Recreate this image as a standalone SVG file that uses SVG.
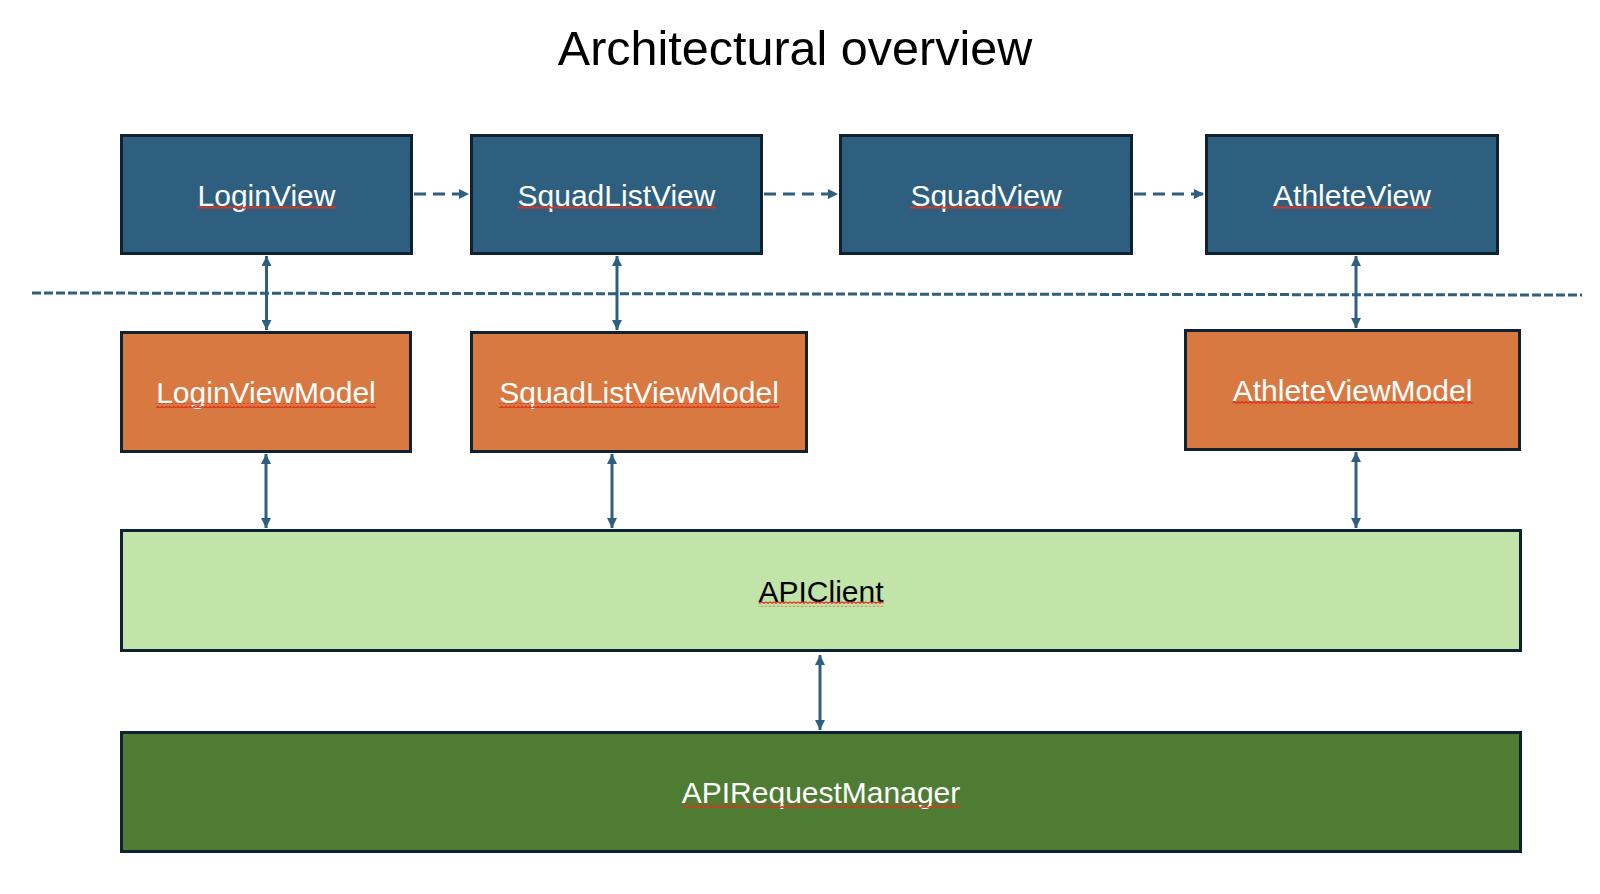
<svg xmlns="http://www.w3.org/2000/svg" width="1600" height="894" viewBox="0 0 1600 894">
<style>
.box{stroke:#0f2231;stroke-width:3}
.view{fill:#2e5f7f}
.vm{fill:#d97942}
.api{fill:#c1e4a8}
.mgr{fill:#4e7c32}
.lbl{font-family:"Liberation Sans",Arial,sans-serif;font-size:30px;text-anchor:middle}
.w{fill:#ffffff}
.k{fill:#000000}
.conn{stroke:#2e5f7f;stroke-width:3;fill:none}
.flow{stroke-dasharray:12 7}
.sq{fill:url(#squig)}
</style>
<defs>
<marker id="ah" viewBox="0 0 10 10" refX="10" refY="5" markerWidth="10" markerHeight="10" markerUnits="userSpaceOnUse" orient="auto-start-reverse">
<path d="M0,0 L10,5 L0,10 z" fill="#2e5f7f"/>
</marker>
<pattern id="squig" patternUnits="userSpaceOnUse" x="0" y="0" width="4" height="5">
<path d="M0,3.5 L2,1.5 L4,3.5" fill="none" stroke="#e0321e" stroke-width="1.4"/>
</pattern>
</defs>
<rect width="1600" height="894" fill="#ffffff"/>
<text x="795" y="65" font-family="'Liberation Sans',Arial,sans-serif" font-size="48.5" text-anchor="middle" fill="#000">Architectural overview</text>

<g id="connectors">
<line class="conn" x1="32" y1="293" x2="1582" y2="295" stroke-width="2.5" stroke-dasharray="9 3"/>
<line class="conn flow" x1="414" y1="194" x2="469" y2="194" marker-end="url(#ah)"/>
<line class="conn flow" x1="764" y1="194" x2="838" y2="194" marker-end="url(#ah)"/>
<line class="conn flow" x1="1134" y1="194" x2="1204" y2="194" marker-end="url(#ah)"/>
<line class="conn" x1="266.5" y1="256" x2="266.5" y2="330" marker-start="url(#ah)" marker-end="url(#ah)"/>
<line class="conn" x1="617" y1="256" x2="617" y2="330" marker-start="url(#ah)" marker-end="url(#ah)"/>
<line class="conn" x1="1356" y1="256" x2="1356" y2="328" marker-start="url(#ah)" marker-end="url(#ah)"/>
<line class="conn" x1="266" y1="454" x2="266" y2="528" marker-start="url(#ah)" marker-end="url(#ah)"/>
<line class="conn" x1="612" y1="454" x2="612" y2="528" marker-start="url(#ah)" marker-end="url(#ah)"/>
<line class="conn" x1="1356" y1="452" x2="1356" y2="528" marker-start="url(#ah)" marker-end="url(#ah)"/>
<line class="conn" x1="820" y1="655" x2="820" y2="730" marker-start="url(#ah)" marker-end="url(#ah)"/>
</g>

<g id="LoginView">
<rect class="box view" x="121.5" y="135.5" width="290" height="118"/>
<text class="lbl w" x="266.5" y="206">LoginView</text>
<rect class="sq" x="197.5" y="206" width="138" height="5"/>
</g>
<g id="SquadListView">
<rect class="box view" x="471.5" y="135.5" width="290" height="118"/>
<text class="lbl w" x="616.5" y="206">SquadListView</text>
<rect class="sq" x="517.5" y="206" width="198" height="5"/>
</g>
<g id="SquadView">
<rect class="box view" x="840.5" y="135.5" width="291" height="118"/>
<text class="lbl w" x="986" y="206">SquadView</text>
<rect class="sq" x="910" y="206" width="152" height="5"/>
</g>
<g id="AthleteView">
<rect class="box view" x="1206.5" y="135.5" width="291" height="118"/>
<text class="lbl w" x="1352" y="206">AthleteView</text>
<rect class="sq" x="1273" y="206" width="158" height="5"/>
</g>

<g id="LoginViewModel">
<rect class="box vm" x="121.5" y="332.5" width="289" height="119"/>
<text class="lbl w" x="266" y="403">LoginViewModel</text>
<rect class="sq" x="156" y="403" width="220" height="5"/>
</g>
<g id="SquadListViewModel">
<rect class="box vm" x="471.5" y="332.5" width="335" height="119"/>
<text class="lbl w" x="639" y="403">SquadListViewModel</text>
<rect class="sq" x="499" y="403" width="280" height="5"/>
</g>
<g id="AthleteViewModel">
<rect class="box vm" x="1185.5" y="330.5" width="334" height="119"/>
<text class="lbl w" x="1352.5" y="401">AthleteViewModel</text>
<rect class="sq" x="1232.5" y="401" width="240" height="5"/>
</g>

<g id="APIClient">
<rect class="box api" x="121.5" y="530.5" width="1399" height="120"/>
<text class="lbl k" x="821" y="601.5">APIClient</text>
<rect class="sq" x="758.5" y="601.5" width="125" height="5"/>
</g>
<g id="APIRequestManager">
<rect class="box mgr" x="121.5" y="732.5" width="1399" height="119"/>
<text class="lbl w" x="821" y="803">APIRequestManager</text>
<rect class="sq" x="682" y="803" width="278" height="5"/>
</g>
</svg>
